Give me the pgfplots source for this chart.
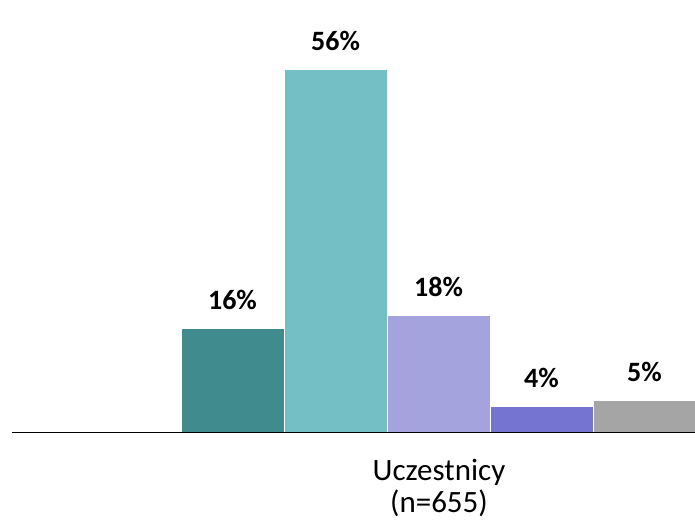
\documentclass[border=0pt]{standalone}
\usepackage{pgfplots}
\pgfplotsset{compat=1.18}
\usepackage{fontspec}
\setmainfont{Carlito}
\definecolor{c1}{HTML}{3F8B8E}
\definecolor{c2}{HTML}{74BFC5}
\definecolor{c3}{HTML}{A5A3DE}
\definecolor{c4}{HTML}{7574D0}
\definecolor{c5}{HTML}{A5A5A5}
\begin{document}
\begin{tikzpicture}
\useasboundingbox (0,0) rectangle (695pt,524pt);
\begin{axis}[
  at={(12pt,91.5pt)}, anchor=south west,
  scale only axis, width=683pt, height=389.4pt,
  xmin=12, xmax=695, ymin=0, ymax=60,
  axis x line*=bottom, axis y line=none,
  axis on top,
  x axis line style={black, line width=1pt, -},
  xtick={439}, xticklabels={Uczestnicy\\(n=655)},
  major tick length=0pt,
  xticklabel style={font=\fontsize{31}{32}\selectfont, align=center, anchor=north, inner sep=0pt, yshift=-26pt},
  /pgf/number format/assume math mode=true,
  ybar, bar width=103, bar shift=0pt,
  clip=false,
  nodes near coords={\pgfmathprintnumber{\pgfplotspointmeta}\%},
  every node near coord/.append style={font=\fontsize{28}{30}\selectfont\bfseries, anchor=base, inner sep=0pt, yshift=19pt, black},
]
\addplot[fill=c1, draw=white, line width=1pt] coordinates {(232.5,16)};
\addplot[fill=c2, draw=white, line width=1pt] coordinates {(335.5,56)};
\addplot[fill=c3, draw=white, line width=1pt] coordinates {(438.5,18)};
\addplot[fill=c4, draw=white, line width=1pt] coordinates {(541.5,4)};
\addplot[fill=c5, draw=white, line width=1pt] coordinates {(644.5,5)};
\end{axis}
\end{tikzpicture}
\end{document}
